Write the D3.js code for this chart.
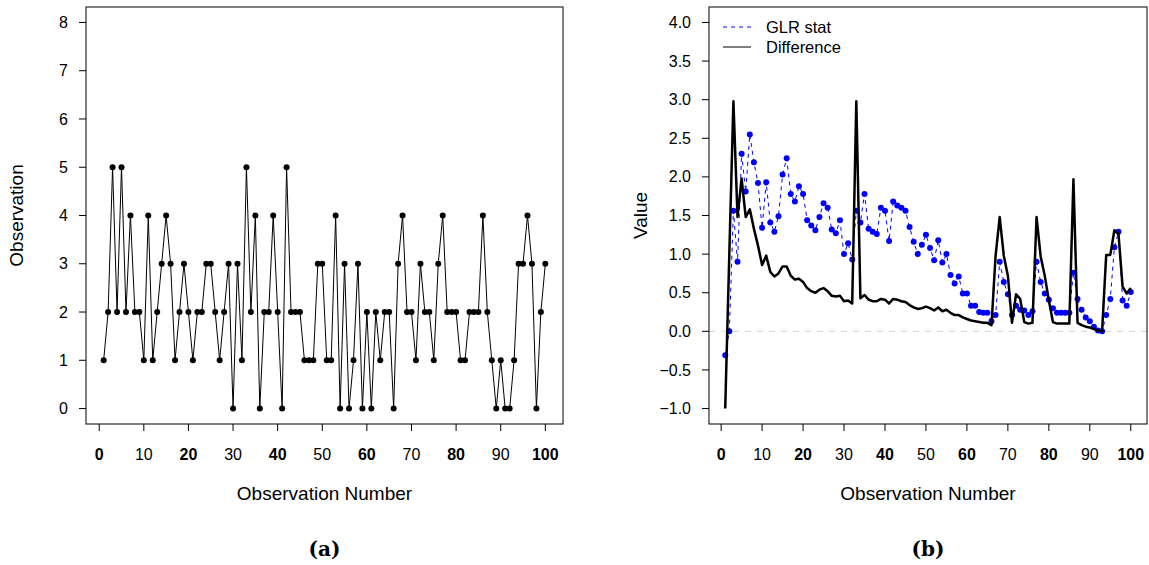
<!DOCTYPE html>
<html>
<head>
<meta charset="utf-8">
<script src="https://cdn.jsdelivr.net/npm/d3@7"></script>
<style>
  body { margin: 0; background: #fff; }
  svg text { font-family: "Liberation Sans", Arial, sans-serif; }
</style>
</head>
<body>
<svg id="chart" width="1149" height="565"></svg>
<script>
// observations, panel (a)
var obsValues = [1,2,5,2,5,2,4,2,2,1, 4,1,2,3,4,3,1,2,3,2,
  1,2,2,3,3,2,1,2,3,0, 3,1,5,2,4,0,2,2,4,2,
  0,5,2,2,2,1,1,1,3,3, 1,1,4,0,3,0,1,3,0,2,
  0,2,1,2,2,0,3,4,2,2, 1,3,2,2,1,3,4,2,2,2,
  1,1,2,2,2,4,2,1,0,1, 0,0,1,3,3,4,3,0,2,3];

// panel (b) series
var glrStat = [-0.31,0.00,1.56,0.90,2.30,1.81,2.55,2.19,1.92,1.34,
  1.93,1.41,1.29,1.49,2.03,2.24,1.78,1.68,1.88,1.78,
  1.44,1.37,1.31,1.48,1.66,1.60,1.32,1.27,1.44,1.00,
  1.14,0.93,1.56,1.41,1.78,1.33,1.29,1.26,1.60,1.56,
  1.17,1.68,1.63,1.60,1.56,1.35,1.16,1.00,1.12,1.25,
  1.08,0.92,1.18,0.89,1.00,0.73,0.62,0.71,0.49,0.49,
  0.33,0.33,0.25,0.24,0.24,0.13,0.21,0.90,0.64,0.48,
  0.21,0.33,0.28,0.27,0.21,0.26,0.90,0.64,0.49,0.41,
  0.30,0.24,0.24,0.24,0.24,0.76,0.42,0.28,0.18,0.13,
  0.06,0.01,0.00,0.21,0.42,1.09,1.29,0.40,0.33,0.51];

var difference = [-1.00,1.00,2.98,1.48,1.98,1.48,1.58,1.33,1.11,0.86,
  0.98,0.77,0.71,0.75,0.84,0.84,0.72,0.67,0.68,0.64,
  0.56,0.52,0.50,0.54,0.56,0.52,0.46,0.45,0.46,0.39,
  0.40,0.36,2.98,0.43,0.47,0.41,0.39,0.39,0.42,0.41,
  0.36,0.42,0.41,0.39,0.38,0.34,0.31,0.29,0.30,0.32,
  0.30,0.27,0.31,0.26,0.28,0.24,0.21,0.21,0.18,0.16,
  0.14,0.13,0.12,0.11,0.11,0.08,0.98,1.48,0.98,0.72,
  0.11,0.48,0.42,0.12,0.10,0.11,1.48,0.97,0.72,0.40,
  0.12,0.10,0.10,0.10,0.10,1.97,0.11,0.08,0.06,0.05,
  0.03,0.01,0.00,0.99,0.99,1.31,1.26,0.58,0.49,0.56];

var xTicks = d3.range(0, 101, 10);
var yTicksA = d3.range(0, 9, 1);
var yTicksB = d3.range(-1, 4.01, 0.5);
var legendLabels = ["GLR stat", "Difference"];
var panelLabels = ["(a)", "(b)"];

var svg = d3.select("#chart");
var plotTop = 7, plotBottom = 424;

function xAxisPanel(g, x) {
  var ax = g.append("g").attr("transform", "translate(0," + plotBottom + ")");
  xTicks.forEach(function(t) {
    ax.append("line").attr("x1", x(t)).attr("x2", x(t)).attr("y1", 0).attr("y2", 7)
      .attr("stroke", "#000");
    ax.append("text").attr("x", x(t)).attr("y", 36)
      .attr("text-anchor", "middle").attr("font-size", 16)
      .attr("font-weight", t % 20 == 0 ? "bold" : "normal")
      .text(t);
  });
}

function yAxisPanel(g, y, ticks, left, fmt) {
  ticks.forEach(function(t) {
    g.append("line").attr("x1", left - 7).attr("x2", left).attr("y1", y(t)).attr("y2", y(t))
      .attr("stroke", "#000");
    g.append("text").attr("x", left - 18).attr("y", y(t)).attr("dy", "0.35em")
      .attr("text-anchor", "end").attr("font-size", 16).text(fmt(t));
  });
}

// ---------- panel (a)
var xa = d3.scaleLinear().domain([-2.96, 103.96]).range([86, 563]);
var ya = d3.scaleLinear().domain([-0.32, 8.32]).range([plotBottom, plotTop]);
var ga = svg.append("g");

ga.append("rect").attr("x", 86).attr("y", plotTop).attr("width", 563 - 86).attr("height", plotBottom - plotTop)
  .attr("fill", "none").attr("stroke", "#000");
xAxisPanel(ga, xa);
yAxisPanel(ga, ya, yTicksA, 86, d3.format("d"));

ga.append("path")
  .datum(obsValues)
  .attr("fill", "none").attr("stroke", "#000").attr("stroke-width", 1)
  .attr("d", d3.line().x(function(d, i) { return xa(i + 1); }).y(function(d) { return ya(d); }));
ga.selectAll(".pt").data(obsValues).enter().append("circle")
  .attr("cx", function(d, i) { return xa(i + 1); })
  .attr("cy", function(d) { return ya(d); })
  .attr("r", 3).attr("fill", "#000");

ga.append("text").attr("x", (86 + 563) / 2).attr("y", 500).attr("text-anchor", "middle")
  .attr("font-size", 19).text("Observation Number");
ga.append("text").attr("transform", "translate(23," + (plotTop + plotBottom) / 2 + ") rotate(-90)")
  .attr("text-anchor", "middle").attr("font-size", 19).text("Observation");

// ---------- panel (b)
var xb = d3.scaleLinear().domain([-2.96, 103.96]).range([709, 1147]);
var yb = d3.scaleLinear().domain([-1.2, 4.2]).range([plotBottom, plotTop]);
var gb = svg.append("g");

gb.append("line").attr("x1", 709).attr("x2", 1147).attr("y1", yb(0)).attr("y2", yb(0))
  .attr("stroke", "#d3d3d3").attr("stroke-dasharray", "6,6");

gb.append("path")
  .datum(glrStat)
  .attr("fill", "none").attr("stroke", "blue").attr("stroke-width", 1)
  .attr("stroke-dasharray", "4,4")
  .attr("d", d3.line().x(function(d, i) { return xb(i + 1); }).y(function(d) { return yb(d); }));
gb.selectAll(".gp").data(glrStat).enter().append("circle")
  .attr("cx", function(d, i) { return xb(i + 1); })
  .attr("cy", function(d) { return yb(d); })
  .attr("r", 3).attr("fill", "blue");

gb.append("path")
  .datum(difference)
  .attr("fill", "none").attr("stroke", "#000").attr("stroke-width", 2.5)
  .attr("stroke-linejoin", "round")
  .attr("d", d3.line().x(function(d, i) { return xb(i + 1); }).y(function(d) { return yb(d); }));

gb.append("rect").attr("x", 709).attr("y", plotTop).attr("width", 1147 - 709).attr("height", plotBottom - plotTop)
  .attr("fill", "none").attr("stroke", "#000");
xAxisPanel(gb, xb);
yAxisPanel(gb, yb, yTicksB, 709, d3.format(".1f"));

gb.append("text").attr("x", (709 + 1147) / 2).attr("y", 500).attr("text-anchor", "middle")
  .attr("font-size", 19).text("Observation Number");
gb.append("text").attr("transform", "translate(647," + (plotTop + plotBottom) / 2 + ") rotate(-90)")
  .attr("text-anchor", "middle").attr("font-size", 19).text("Value");

// legend
var leg = gb.append("g");
leg.append("line").attr("x1", 723).attr("x2", 751).attr("y1", 27).attr("y2", 27)
  .attr("stroke", "blue").attr("stroke-dasharray", "4,4");
leg.append("line").attr("x1", 723).attr("x2", 751).attr("y1", 47).attr("y2", 47)
  .attr("stroke", "#000");
legendLabels.forEach(function(l, i) {
  leg.append("text").attr("x", 766).attr("y", 27 + i * 20).attr("dy", "0.35em")
    .attr("font-size", 16.5).text(l);
});

// panel labels
[(86 + 563) / 2, (709 + 1147) / 2].forEach(function(cx, i) {
  svg.append("text").attr("x", cx).attr("y", 556).attr("text-anchor", "middle")
    .attr("font-size", 20).attr("font-weight", "bold")
    .style("font-family", "'DejaVu Serif', serif").text(panelLabels[i]);
});
</script>
</body>
</html>
